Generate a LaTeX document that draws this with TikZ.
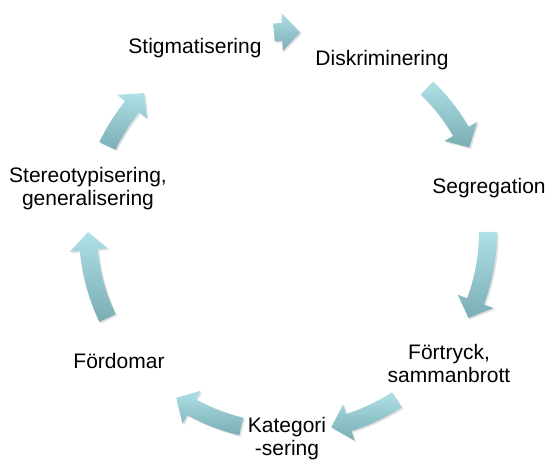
\documentclass[tikz,border=0pt]{standalone}
\usepackage{fontspec}
\setmainfont{Liberation Sans}
\definecolor{arrtop}{RGB}{174,224,230}
\definecolor{arrbot}{RGB}{122,174,180}
\newcommand{\cyclearrow}[2]{%
  \pgfmathsetmacro{\ah}{#2+5.2}%
  \path[arrowshape] ([shift={(#1:209)}]C) arc[start angle=#1, end angle=\ah, radius=209]
    -- ([shift={(\ah:219)}]C) -- ([shift={(#2:200)}]C) -- ([shift={(\ah:181)}]C)
    -- ([shift={(\ah:191)}]C) arc[start angle=\ah, end angle=#1, radius=191] -- cycle;}
\begin{document}
\begin{tikzpicture}[x=1pt,y=1pt,
  lbl/.style={align=center, inner sep=0pt, font=\fontsize{21}{23}\selectfont},
  arrowshape/.style={top color=arrtop, bottom color=arrbot,
    preaction={fill=black, opacity=0.12, transform canvas={xshift=1.5pt,yshift=-1.5pt}}}]
\fill[white] (0,0) rectangle (547,460);
\useasboundingbox (0,0) rectangle (547,460);
\coordinate (C) at (288,228);
\node[lbl] (stig) at (195,412) {Stigmatisering};
\node[lbl] (disk) at (382,400) {Diskriminering};
\node[lbl] (seg) at (489,272) {Segregation};
\node[lbl] (fort) at (449,97) {Förtryck,\\sammanbrott};
\node[lbl] (kat) at (287,21) {Kategori\\-sering};
\node[lbl] (ford) at (119,99) {Fördomar};
\node[lbl] (ster) at (88,271) {Stereotypisering,\\generalisering};
\cyclearrow{94}{86.5}
\cyclearrow{46}{25}
\cyclearrow{0}{-25.5}
\cyclearrow{-57}{-77.5}
\cyclearrow{-103.5}{-124}
\cyclearrow{205.5}{180}
\cyclearrow{154.5}{136}
\end{tikzpicture}
\end{document}
